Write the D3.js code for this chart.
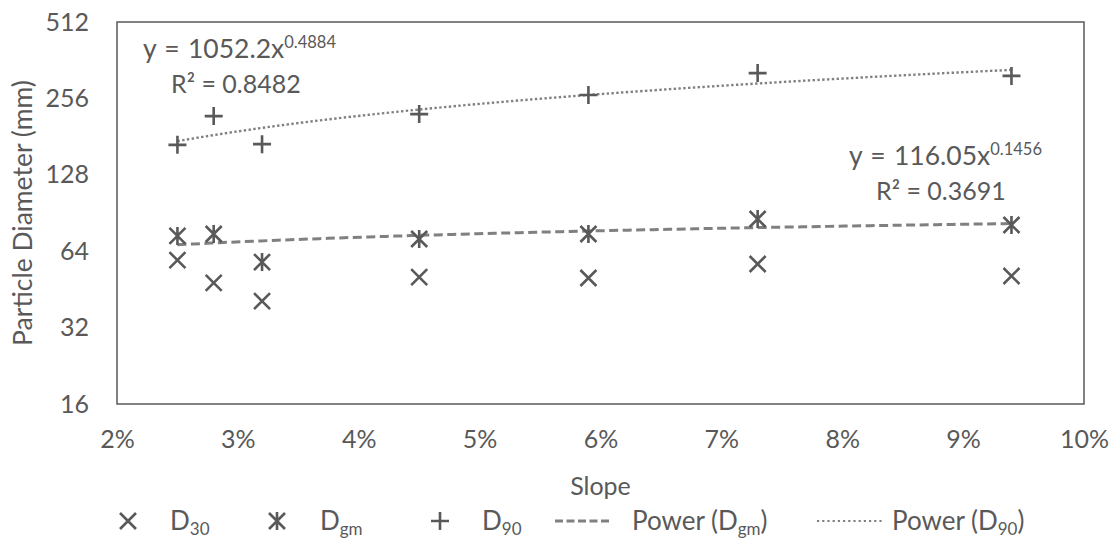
<!DOCTYPE html>
<html>
<head>
<meta charset="utf-8">
<script src="https://cdn.jsdelivr.net/npm/d3@7"></script>
<style>
  html, body { margin: 0; padding: 0; background: #fff; }
  svg text { font-family: Lato, "Open Sans", sans-serif; fill: #595959; }
</style>
</head>
<body>
<svg id="chart" width="1112" height="539"></svg>
<script>
// Slope (fraction) of each sampled reach
const slopes = [0.025, 0.028, 0.032, 0.045, 0.059, 0.073, 0.094];
// Particle diameters (mm)
const d30 = [59, 48, 40.7, 50.6, 50.2, 57, 51.1];
const dgm = [73.5, 74.8, 58, 71.5, 74.8, 85.7, 81.2];
const d90 = [168, 218, 169, 222, 264, 322, 314];

// Power-law fits y = a * x^b
const fitDgm = { a: 116.05, b: 0.1456, r2: "0.3691" };
const fitD90 = { a: 1052.2, b: 0.4884, r2: "0.8482" };

const xTicks = [0.02, 0.03, 0.04, 0.05, 0.06, 0.07, 0.08, 0.09, 0.10];
const yTicks = [16, 32, 64, 128, 256, 512];

const svg = d3.select("#chart");
const plotL = 117, plotR = 1084, plotT = 22, plotB = 404;
const ink = "#595959";
const trendInk = "#808080";
const tickSize = 25;
const legendSize = 26;

const x = d3.scaleLinear().domain([0.02, 0.10]).range([plotL, plotR]);
const y = d3.scaleLog().base(2).domain([16, 512]).range([plotB, plotT]);

// plot frame
svg.append("rect")
  .attr("x", plotL).attr("y", plotT)
  .attr("width", plotR - plotL).attr("height", plotB - plotT)
  .attr("fill", "none").attr("stroke", ink).attr("stroke-width", 1.5);

// axes (labels only; the frame draws the lines)
const xAxis = svg.append("g").attr("transform", `translate(0,${plotB})`)
  .call(d3.axisBottom(x).tickValues(xTicks).tickSize(0).tickPadding(26)
    .tickFormat(d3.format(".0%")));
const yAxis = svg.append("g").attr("transform", `translate(${plotL},0)`)
  .call(d3.axisLeft(y).tickValues(yTicks).tickSize(0).tickPadding(28)
    .tickFormat(d3.format("d")));
[xAxis, yAxis].forEach(g => {
  g.select(".domain").remove();
  g.selectAll("text").attr("font-size", tickSize).attr("fill", ink)
    .style("font-family", "Lato, sans-serif");
});

// axis titles
svg.append("text").attr("x", (plotL + plotR) / 2).attr("y", 495)
  .attr("text-anchor", "middle").attr("font-size", 25).text("Slope");
svg.append("text")
  .attr("transform", `translate(32,${(plotT + plotB) / 2}) rotate(-90)`)
  .attr("text-anchor", "middle").attr("font-size", 26.5).text("Particle Diameter (mm)");

// trend lines, evaluated from the fitted coefficients
function trend(fit) {
  const x0 = slopes[0], x1 = slopes[slopes.length - 1];
  return d3.range(0, 101).map(i => {
    const v = x0 + (x1 - x0) * i / 100;
    return [v, fit.a * Math.pow(v, fit.b)];
  });
}
const line = d3.line().x(d => x(d[0])).y(d => y(d[1]));
svg.append("path").attr("d", line(trend(fitDgm)))
  .attr("fill", "none").attr("stroke", trendInk).attr("stroke-width", 3)
  .attr("stroke-dasharray", "9,4.5");
svg.append("path").attr("d", line(trend(fitD90)))
  .attr("fill", "none").attr("stroke", trendInk).attr("stroke-width", 2.4)
  .attr("stroke-dasharray", "2.4,2.4");

// marker shapes
const s = 8;
const markerPaths = {
  cross: `M${-s},${-s}L${s},${s}M${-s},${s}L${s},${-s}`,
  star: `M${-s},${-s}L${s},${s}M${-s},${s}L${s},${-s}M0,${-s - 1}L0,${s + 1}`,
  plus: `M${-s - 1},0L${s + 1},0M0,${-s - 1}L0,${s + 1}`
};
function markers(vals, shape) {
  svg.append("g").selectAll("path").data(vals).join("path")
    .attr("transform", (d, i) => `translate(${x(slopes[i])},${y(d)})`)
    .attr("d", markerPaths[shape])
    .attr("fill", "none").attr("stroke", ink).attr("stroke-width", 2.6);
}
markers(d30, "cross");
markers(dgm, "star");
markers(d90, "plus");

// equation labels
function equation(px, py, a, b, r2, rOffset) {
  const t = svg.append("text").attr("x", px).attr("y", py)
    .attr("font-size", 26.5).attr("word-spacing", 1.5);
  t.append("tspan").text(`y = ${a}x`);
  t.append("tspan").attr("dy", -10).attr("font-size", 16.5).text(b);
  svg.append("text").attr("x", px + rOffset).attr("y", py + 35).attr("font-size", 25)
    .text(`R² = ${r2}`);
}
equation(143, 58, "1052.2", "0.4884", fitD90.r2, 28);
equation(849, 165, "116.05", "0.1456", fitDgm.r2, 27);

// legend
const ly = 521;
const lg = svg.append("g");
function legendLabel(px, main, sub, close) {
  const t = lg.append("text").attr("x", px).attr("y", ly + 9).attr("font-size", legendSize);
  t.append("tspan").text(main);
  t.append("tspan").attr("dy", 5).attr("font-size", 17).text(sub);
  if (close) t.append("tspan").attr("dy", -5).attr("font-size", legendSize).text(close);
  return t;
}
[["cross", 128, 170, "30"], ["star", 277, 320, "gm"], ["plus", 440, 482, "90"]]
  .forEach(([shape, px, tx, sb]) => {
    lg.append("path").attr("transform", `translate(${px},${ly})`)
      .attr("d", markerPaths[shape]).attr("fill", "none")
      .attr("stroke", ink).attr("stroke-width", 2.6);
    legendLabel(tx, "D", sb);
  });
lg.append("line").attr("x1", 555).attr("x2", 611).attr("y1", ly).attr("y2", ly)
  .attr("stroke", trendInk).attr("stroke-width", 3).attr("stroke-dasharray", "8,3.5");
legendLabel(632, "Power (D", "gm", ")");
lg.append("line").attr("x1", 817).attr("x2", 883).attr("y1", ly).attr("y2", ly)
  .attr("stroke", trendInk).attr("stroke-width", 2.2).attr("stroke-dasharray", "2.2,3");
legendLabel(892, "Power (D", "90", ")");
</script>
</body>
</html>
